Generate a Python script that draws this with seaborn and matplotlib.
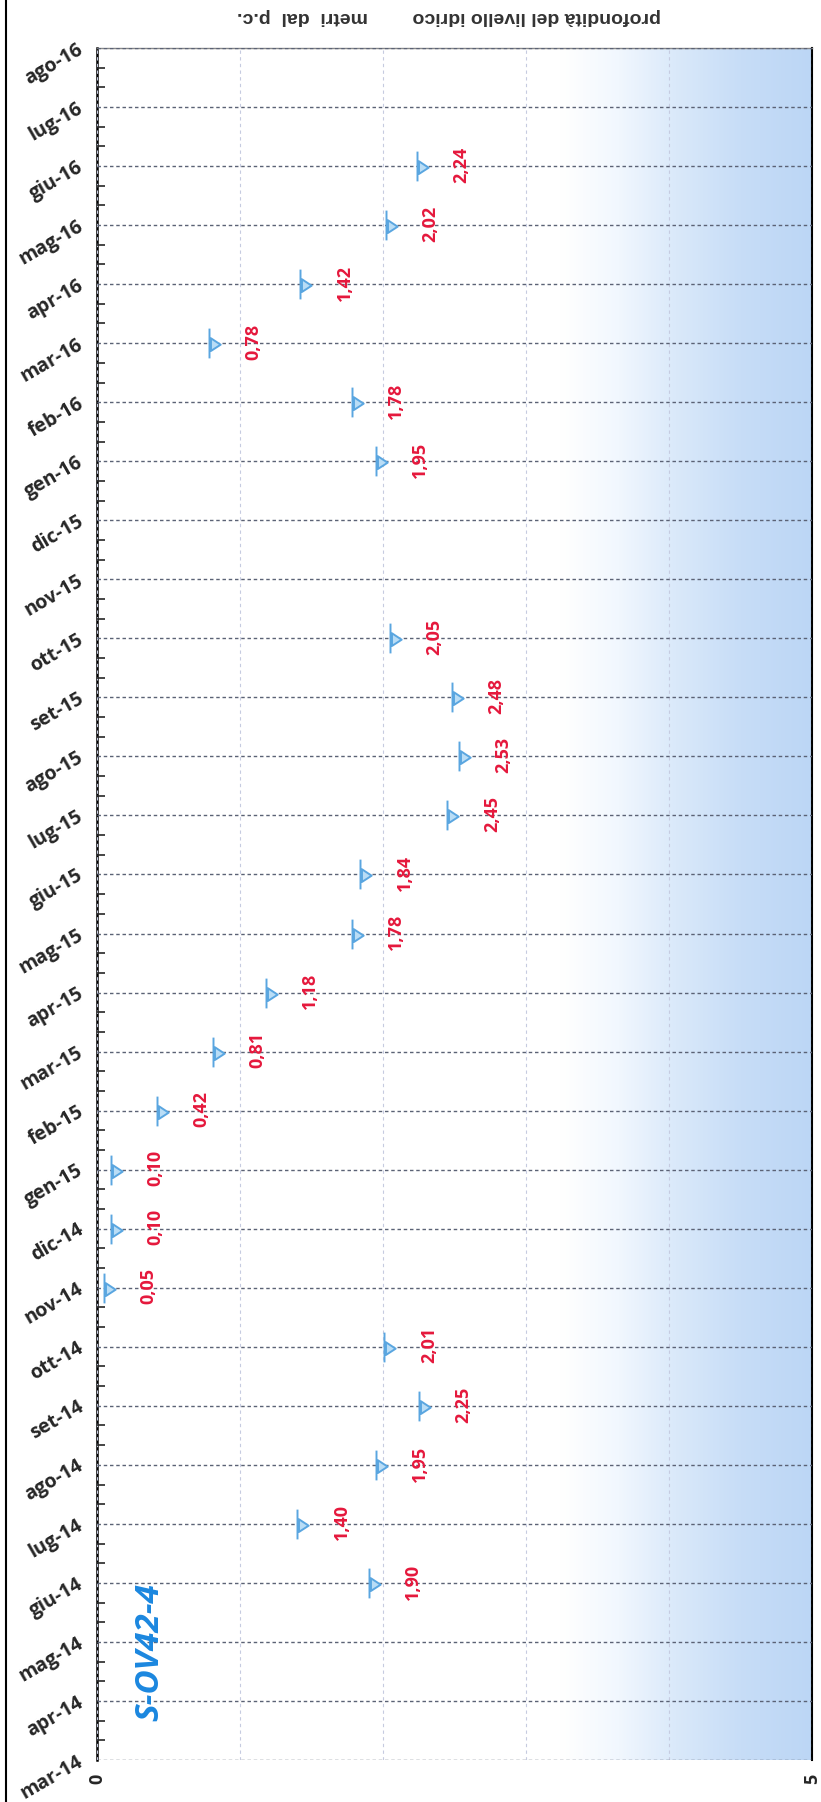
import matplotlib.pyplot as plt
import matplotlib.colors as mcolors
from matplotlib.path import Path
from matplotlib.lines import Line2D
import seaborn as sns
import numpy as np
import pandas as pd

# mesi sull'asse (dal basso verso l'alto)
mesi = ['mar-14', 'apr-14', 'mag-14', 'giu-14', 'lug-14', 'ago-14', 'set-14', 'ott-14',
        'nov-14', 'dic-14', 'gen-15', 'feb-15', 'mar-15', 'apr-15', 'mag-15', 'giu-15',
        'lug-15', 'ago-15', 'set-15', 'ott-15', 'nov-15', 'dic-15', 'gen-16', 'feb-16',
        'mar-16', 'apr-16', 'mag-16', 'giu-16', 'lug-16', 'ago-16']

# misure del livello idrico (metri dal p.c.)
mesi_misura = ['giu-14', 'lug-14', 'ago-14', 'set-14', 'ott-14', 'nov-14', 'dic-14',
               'gen-15', 'feb-15', 'mar-15', 'apr-15', 'mag-15', 'giu-15', 'lug-15',
               'ago-15', 'set-15', 'ott-15', 'gen-16', 'feb-16', 'mar-16', 'apr-16',
               'mag-16', 'giu-16']
profondita = [1.90, 1.40, 1.95, 2.25, 2.01, 0.05, 0.10,
              0.10, 0.42, 0.81, 1.18, 1.78, 1.84, 2.45,
              2.53, 2.48, 2.05, 1.95, 1.78, 0.78, 1.42,
              2.02, 2.24]

pozzo = 'S-OV42-4'

sns.set_style('white')
plt.rcParams['font.family'] = ['Open Sans', 'DejaVu Sans']

W, H = 821, 1802
fig = plt.figure(figsize=(W / 100, H / 100), dpi=100)
ax = fig.add_axes([97 / W, 1 - 1760 / H, (812 - 97) / W, (1760 - 48) / H])

# sfondo sfumato (acqua)
cmap = mcolors.LinearSegmentedColormap.from_list(
    'acqua', [(0, 'white'), (0.65, 'white'), (0.73, '#f1f7fe'),
              (0.81, '#dae9fa'), (0.90, '#c7ddf7'), (1.0, '#bcd6f5')])
grad = np.linspace(0, 1, 256).reshape(1, -1)
ax.imshow(grad, extent=[0, 5, 0, len(mesi) - 1], aspect='auto', cmap=cmap, zorder=0)

df = pd.DataFrame({'mese': mesi_misura, 'profondita': profondita})
df['pos'] = df['mese'].map(mesi.index)

# simbolo del livello idrico: barra + triangolo
verts = [(0, -1), (0, 1), (0.1, 0.35), (0.1, -0.5), (0.75, -0.08), (0.1, 0.35)]
codes = [Path.MOVETO, Path.LINETO, Path.MOVETO, Path.LINETO, Path.LINETO, Path.CLOSEPOLY]
simbolo = Path(verts, codes)

sns.scatterplot(data=df, x='profondita', y='pos', marker=simbolo, s=460,
                color='#b9ddf6', edgecolor='#5aa6e0', linewidth=1.4,
                ax=ax, zorder=4, legend=False)

for _, r in df.iterrows():
    ax.annotate(f"{r['profondita']:.2f}".replace('.', ','), (r['profondita'], r['pos']),
                xytext=(32, 1), textcoords='offset points', rotation=90,
                ha='center', va='center', color='#e5183c', fontweight='bold',
                fontsize=13, zorder=5)

ax.set_xlim(0, 5)
ax.set_ylim(0, len(mesi) - 1)

ax.set_yticks(range(len(mesi)))
ax.set_yticklabels(mesi, rotation=30, ha='right', va='center', rotation_mode='anchor',
                   fontweight='bold', fontsize=14)
minori = [i + f for i in range(len(mesi) - 1) for f in (1 / 3, 2 / 3)]
ax.set_yticks(minori, minor=True)
ax.tick_params(axis='y', which='major', direction='inout', length=10, width=1.5, pad=6)
ax.tick_params(axis='y', which='minor', direction='in', length=6, width=1.2, left=True)

ax.set_xticks(range(6))
ax.set_xticklabels(['0', '', '', '', '', '5'], rotation=90, fontweight='bold', fontsize=13)
ax.tick_params(axis='x', length=0, pad=10)

ax.yaxis.grid(True, linestyle=(0, (2.5, 2)), color='#5b6275', lw=1)
ax.xaxis.grid(True, linestyle=(0, (3, 3)), color='#c6cbe0', lw=0.8)
ax.set_axisbelow(False)
for g in ax.get_xgridlines() + ax.get_ygridlines():
    g.set_zorder(2)

ax.set_xlabel('')
ax.set_ylabel('')
ax.spines['left'].set_color('black')
ax.spines['left'].set_linewidth(1.8)
ax.spines['right'].set_color('black')
ax.spines['right'].set_linewidth(1.5)
ax.spines['top'].set_color('#888888')
ax.spines['top'].set_linewidth(1)
ax.spines['bottom'].set_visible(False)

# titoli capovolti
fig.text(537 / W, 1 - 17 / H, 'profondità del livello idrico', rotation=180,
         ha='center', va='center', fontsize=14, fontweight='bold', color='#333333',
         family=['Liberation Sans', 'DejaVu Sans'])
fig.text(302 / W, 1 - 17 / H, 'metri  dal  p.c.', rotation=180,
         ha='center', va='center', fontsize=14, fontweight='bold', color='#333333',
         family=['Liberation Sans', 'DejaVu Sans'])

fig.text(150 / W, 1 - 1652 / H, pozzo, rotation=90, ha='center', va='center',
         color='#1b87df', fontsize=24, fontweight='bold', fontstyle='italic')

# bordo pagina a sinistra
fig.add_artist(Line2D([0.007, 0.007], [0, 1], color='black', lw=1.5))

fig.savefig('out.png', dpi=100)
